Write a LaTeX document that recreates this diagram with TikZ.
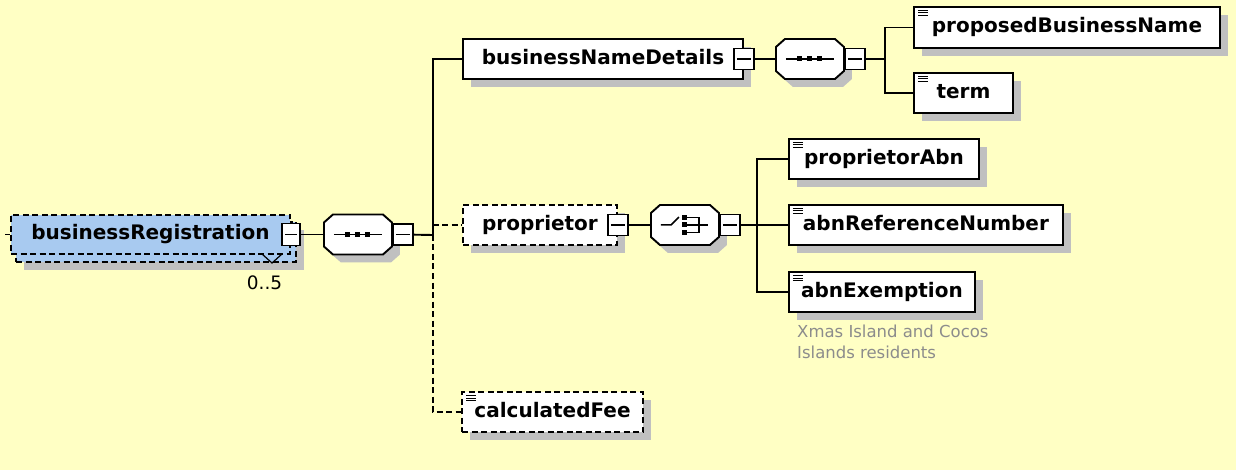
\documentclass[tikz,border=0pt]{standalone}
\usepackage{fontspec}
\setmainfont{DejaVu Sans}
\usetikzlibrary{shadows, positioning}
\definecolor{canvas}{RGB}{255,255,196}
\definecolor{shadowgray}{RGB}{192,192,192}
\definecolor{regblue}{RGB}{168,202,240}
\definecolor{notegray}{RGB}{140,140,140}
\tikzset{
box/.style={shape=rectangle, draw, fill=white, line width=1.9pt, minimum height=40pt, inner sep=0, font=\bfseries\fontsize{20}{24}\selectfont, text height=14pt, text depth=3pt},
shadowed/.style={general shadow={fill=shadowgray, shadow xshift=8pt, shadow yshift=-8pt}},
optional/.style={dash pattern=on 6pt off 3.5pt},
leaf/.style={box, shadowed, path picture={\foreach \k in {3.5pt,6pt,8.5pt} \draw[solid, line width=1pt] ([xshift=4pt, yshift=-\k]path picture bounding box.north west) -- ++(10pt,0pt);}},
slot/.style={shape=rectangle, minimum width=68pt, minimum height=40pt, inner sep=0},
octagon/.pic={
  \fill [shadowgray, shift={(8,8)}] (-25,-20) -- (25,-20) -- (34,-12) -- (34,12) -- (25,20) -- (-25,20) -- (-34,12) -- (-34,-12) -- cycle;
  \draw [fill=white, line width=1.9pt] (-25,-20) -- (25,-20) -- (34,-12) -- (34,12) -- (25,20) -- (-25,20) -- (-34,12) -- (-34,-12) -- cycle;
},
collapse/.style={shape=rectangle, draw, fill=white, line width=1.6pt, minimum width=20pt, minimum height=21pt, inner sep=0, path picture={\draw[line width=1.6pt] ([xshift=3pt]path picture bounding box.west) -- ([xshift=-3pt]path picture bounding box.east);}},
link/.style={line width=1.9pt},
note/.style={text=notegray, align=left, inner sep=0, font=\fontsize{16.5}{21}\selectfont}}

\begin{document}
\begin{tikzpicture}[x=1pt, y=-1pt]
\fill[canvas, use as bounding box] (0,0) rectangle (1236,470);

% root element, repeated up to five times
\node [box, shadowed, optional, fill=regblue, minimum width=280pt, minimum height=40pt] (reg-back) at (156,242) {};
\node [box, optional, fill=regblue, minimum width=279pt, minimum height=39pt] (reg) at (150.5,234.5) {businessRegistration};
\node [collapse, minimum width=18pt, minimum height=22pt] (reg-c) at (reg.east) {};
\coordinate (in) at (5,234.5);
\draw [link] (in) -- (reg.west);
\draw [line width=1.2pt] (262,254) -- (272,263) -- (282,254);
\node [font=\fontsize{18.5}{22}\selectfont] (reg-occ) at (264.5,283) {0..5};

% sequence of the root
\node [slot, right=23pt of reg-c] (seq-a) {};
\pic at (seq-a.center) {octagon};
\node [collapse, right=0pt of seq-a] (seq-a-c) {};
\begin{scope}[shift={(seq-a.center)}]
  \draw [line width=1.5pt] (-24,0) -- (24,0);
  \foreach \dx in {-10,0,10} \fill (\dx-2.5,-2.5) rectangle (\dx+2.5,2.5);
\end{scope}
\coordinate (j-a) at (433,235);
\draw [link] (reg-c) -- (seq-a);
\draw [link] (seq-a-c) -- (j-a);

\node [box, shadowed, minimum width=280pt] (bnd) at (603,59) {businessNameDetails};
\node [collapse] (bnd-c) at (bnd.east) {};
\node [box, shadowed, optional, minimum width=154pt] (prop) at (540,225) {proprietor};
\node [collapse] (prop-c) at (prop.east) {};
\node [leaf, optional, minimum width=181pt] (fee) at (552.5,412) {calculatedFee};
\draw [link] (j-a) |- (bnd.west);
\draw [link, optional] (j-a) |- (prop.west);
\draw [link, optional] (j-a) |- (fee.west);

% business name details
\node [slot, right=21pt of bnd-c] (seq-b) {};
\pic at (seq-b.center) {octagon};
\node [collapse, right=0pt of seq-b] (seq-b-c) {};
\begin{scope}[shift={(seq-b.center)}]
  \draw [line width=1.5pt] (-24,0) -- (24,0);
  \foreach \dx in {-10,0,10} \fill (\dx-2.5,-2.5) rectangle (\dx+2.5,2.5);
\end{scope}
\coordinate (j-b) at (885,59);
\draw [link] (bnd-c) -- (seq-b);
\draw [link] (seq-b-c) -- (j-b);
\node [leaf, minimum width=306pt, minimum height=41pt] (pbn) at (1067,27.5) {proposedBusinessName};
\node [leaf, minimum width=99pt] (term) at (963.5,93) {term};
\draw [link] (j-b) |- (pbn.west);
\draw [link] (j-b) |- (term.west);

% proprietor choice
\node [slot, right=22pt of prop-c] (alt) {};
\pic at (alt.center) {octagon};
\node [collapse, right=0pt of alt] (alt-c) {};
\begin{scope}[shift={(alt.center)}]
  \draw [line width=1.5pt] (-24,0) -- (-14,0) -- (-6,-8);
  \foreach \dy in {-7.5,0,7.5} \fill (-2.5,\dy-2.5) rectangle (2.5,\dy+2.5);
  \draw [line width=1.5pt] (2.5,-7.5) -- (14,-7.5) -- (14,7.5) -- (2.5,7.5);
  \draw [line width=1.5pt] (2.5,0) -- (23,0);
\end{scope}
\coordinate (j-c) at (757,225);
\draw [link] (prop-c) -- (alt);
\draw [link] (alt-c) -- (j-c);
\foreach \name/\y/\w [count=\i] in {proprietorAbn/159/190pt, abnReferenceNumber/225/274pt, abnExemption/292/186pt}{
  \node [leaf, minimum width=\w, anchor=west] (alt-\i) at (788,\y) {\name};
  \draw [link] (j-c) |- (alt-\i.west);
}
\node [note, anchor=north west] (alt-note) at (797,325) {Xmas Island and Cocos\\Islands residents};
\end{tikzpicture}
\end{document}
